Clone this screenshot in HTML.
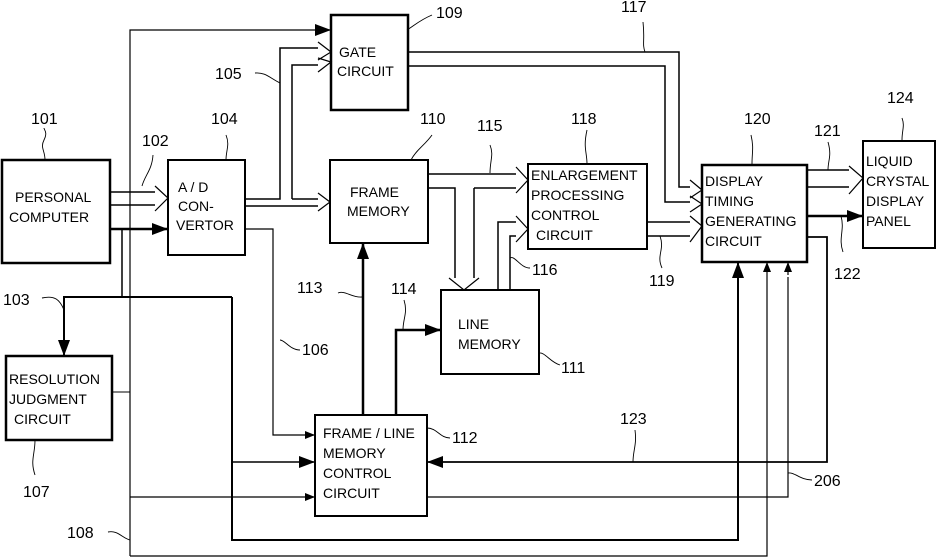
<!DOCTYPE html>
<html><head><style>
html,body{margin:0;padding:0;background:#fff;}
svg{display:block;}
text{font-family:"Liberation Sans",sans-serif;fill:#000;}
.b{font-size:14px;}
.n{font-size:16px;}
</style></head><body>
<svg width="937" height="558" viewBox="0 0 937 558" xmlns="http://www.w3.org/2000/svg">
<defs>
<marker id="fa" markerWidth="10" markerHeight="8" refX="10" refY="4" orient="auto" markerUnits="userSpaceOnUse"><path d="M0,0 L10,4 L0,8 z" fill="#000"/></marker>
<marker id="fb" markerWidth="16" markerHeight="12" refX="16" refY="6" orient="auto" markerUnits="userSpaceOnUse"><path d="M0,0 L16,6 L0,12 z" fill="#000"/></marker>
</defs>
<g fill="none" stroke="#000">
<rect x="2" y="160" width="108" height="103" stroke-width="2.5"/>
<rect x="168" y="160" width="77" height="95" stroke-width="2"/>
<rect x="331" y="15" width="77" height="95" stroke-width="2.5"/>
<rect x="330" y="160" width="98" height="83" stroke-width="2"/>
<rect x="528" y="164" width="119" height="85" stroke-width="2"/>
<rect x="702" y="165" width="105" height="97" stroke-width="2.5"/>
<rect x="863" y="141" width="72" height="107" stroke-width="2"/>
<rect x="441" y="290" width="98" height="84" stroke-width="2"/>
<rect x="6" y="356" width="106" height="84" stroke-width="2.5"/>
<rect x="315" y="415" width="112" height="101" stroke-width="2"/>

<path d="M110,192 H155 M110,205 H155" stroke-width="1.5"/>
<path d="M155,186 L168,198 L155,211" stroke-width="1.2"/>
<path d="M245,199 H280 V48 H318 M292,199 V65 H318 M245,206 H318 M292,199 H318" stroke-width="1.5"/>
<path d="M318,193 L330,202 L318,211" stroke-width="1.2"/>
<path d="M318,42 L331,52 L318,60 M318,58 L331,62 L318,72" stroke-width="1.2"/>
<path d="M408,52 H679 V187 H690 M408,66 H665 V202 H690" stroke-width="1.5"/>
<path d="M690,180 L702,190 L690,198 M690,196 L702,204 L690,212" stroke-width="1.2"/>
<path d="M428,174 H516 M428,188 H455 V278 M474,188 H516 M474,188 V278" stroke-width="1.5"/>
<path d="M516,167 L528,180 L516,193" stroke-width="1.2"/>
<path d="M449,278 L464,290 L479,278" stroke-width="1.2"/>
<path d="M498,290 V222 H516 M510,290 V236 H516" stroke-width="1.5"/>
<path d="M516,216 L528,229 L516,242" stroke-width="1.2"/>
<path d="M647,222 H690 M647,236 H690" stroke-width="1.5"/>
<path d="M690,216 L702,226 L690,242" stroke-width="1.2"/>
<path d="M807,170 H849 M807,187 H849" stroke-width="1.5"/>
<path d="M849,166 L863,178 L849,194" stroke-width="1.2"/>
<path d="M807,216 H863" stroke-width="2.5" marker-end="url(#fb)"/>
<path d="M110,229 H168" stroke-width="2.5" marker-end="url(#fb)"/>
<path d="M122,229 V297" stroke-width="1.5"/>
<path d="M232,297 H64 V356" stroke-width="2" marker-end="url(#fb)"/>
<path d="M232,297 V540 H738 V262" stroke-width="2" marker-end="url(#fb)"/>
<path d="M232,462 H315" stroke-width="1.5" marker-end="url(#fb)"/>
<path d="M112,392 H130" stroke-width="1"/>
<path d="M130,556 V30 H331" stroke-width="1.2" marker-end="url(#fb)"/>
<path d="M130,556 H767 V262" stroke-width="1.2" marker-end="url(#fa)"/>
<path d="M130,497 H315" stroke-width="1.2" marker-end="url(#fa)"/>
<path d="M245,229 H273 V435 H315" stroke-width="1.2" marker-end="url(#fa)"/>
<path d="M363,415 V243" stroke-width="2.5" marker-end="url(#fb)"/>
<path d="M396,415 V330 H441" stroke-width="2.5" marker-end="url(#fb)"/>
<path d="M807,237 H827 V462 H427" stroke-width="1.8" marker-end="url(#fb)"/>
<path d="M427,497 H788 V280" stroke-width="1.2"/>
<path d="M788,280 V262" stroke-width="1.2" stroke-dasharray="3,2" marker-end="url(#fa)"/>
<path d="M45,160 C45,150 40,148 44,140 C48,132 44,130 44,128 M142,186 C145,175 152,170 153,155 M226,160 C226,150 230,145 226,135 M407,30 C415,25 420,20 432,15 M411,160 C416,150 425,145 432,135 M280,83 C270,78 265,72 255,73 M490,173 C490,160 494,155 490,145 M587,164 C587,152 583,148 587,130 M752,164 C752,152 754,148 751,135 M828,170 C828,160 832,156 828,142 M902,140 C902,130 905,126 902,118 M841,216 C845,230 838,238 843,252 M645,52 C642,44 645,40 643,22 M510,258 C515,255 520,268 530,268 M660,236 C665,250 656,255 662,268 M280,340 C285,340 290,350 300,350 M362,297 C352,298 345,290 338,293 M403,330 C403,318 408,313 404,300 M539,353 C545,352 550,362 560,365 M427,428 C437,428 440,438 450,438 M633,462 C633,450 637,445 635,430 M788,473 C795,472 800,480 812,480 M35,440 C35,455 30,460 35,475 M130,540 C122,538 118,530 108,532 M64,310 C60,300 55,295 42,298" stroke-width="0.9"/>
</g>
<text class="b" x="15" y="202">PERSONAL</text>
<text class="b" x="9" y="222">COMPUTER</text>
<text class="b" x="178" y="192">A / D</text>
<text class="b" x="178" y="211">CON-</text>
<text class="b" x="176" y="230">VERTOR</text>
<text class="b" x="339" y="57">GATE</text>
<text class="b" x="337" y="76">CIRCUIT</text>
<text class="b" x="350" y="197">FRAME</text>
<text class="b" x="347" y="216">MEMORY</text>
<text class="b" x="531" y="180">ENLARGEMENT</text>
<text class="b" x="531" y="200">PROCESSING</text>
<text class="b" x="531" y="220">CONTROL</text>
<text class="b" x="536" y="240">CIRCUIT</text>
<text class="b" x="705" y="186">DISPLAY</text>
<text class="b" x="705" y="206">TIMING</text>
<text class="b" x="705" y="226">GENERATING</text>
<text class="b" x="705" y="246">CIRCUIT</text>
<text class="b" x="866" y="166">LIQUID</text>
<text class="b" x="866" y="186">CRYSTAL</text>
<text class="b" x="866" y="206">DISPLAY</text>
<text class="b" x="866" y="226">PANEL</text>
<text class="b" x="458" y="329">LINE</text>
<text class="b" x="458" y="349">MEMORY</text>
<text class="b" x="9" y="384">RESOLUTION</text>
<text class="b" x="9" y="404">JUDGMENT</text>
<text class="b" x="14" y="424">CIRCUIT</text>
<text class="b" x="323" y="438">FRAME / LINE</text>
<text class="b" x="323" y="458">MEMORY</text>
<text class="b" x="323" y="478">CONTROL</text>
<text class="b" x="323" y="498">CIRCUIT</text>
<text class="n" x="31" y="124">101</text>
<text class="n" x="142" y="146">102</text>
<text class="n" x="211" y="124">104</text>
<text class="n" x="436" y="18">109</text>
<text class="n" x="215" y="79">105</text>
<text class="n" x="420" y="124">110</text>
<text class="n" x="477" y="131">115</text>
<text class="n" x="571" y="124">118</text>
<text class="n" x="621" y="12">117</text>
<text class="n" x="744" y="124">120</text>
<text class="n" x="814" y="136">121</text>
<text class="n" x="887" y="103">124</text>
<text class="n" x="834" y="279">122</text>
<text class="n" x="649" y="286">119</text>
<text class="n" x="532" y="275">116</text>
<text class="n" x="3" y="305">103</text>
<text class="n" x="302" y="355">106</text>
<text class="n" x="297" y="293">113</text>
<text class="n" x="391" y="294">114</text>
<text class="n" x="561" y="373">111</text>
<text class="n" x="452" y="443">112</text>
<text class="n" x="620" y="424">123</text>
<text class="n" x="814" y="486">206</text>
<text class="n" x="23" y="497">107</text>
<text class="n" x="67" y="538">108</text>
</svg>
</body></html>
